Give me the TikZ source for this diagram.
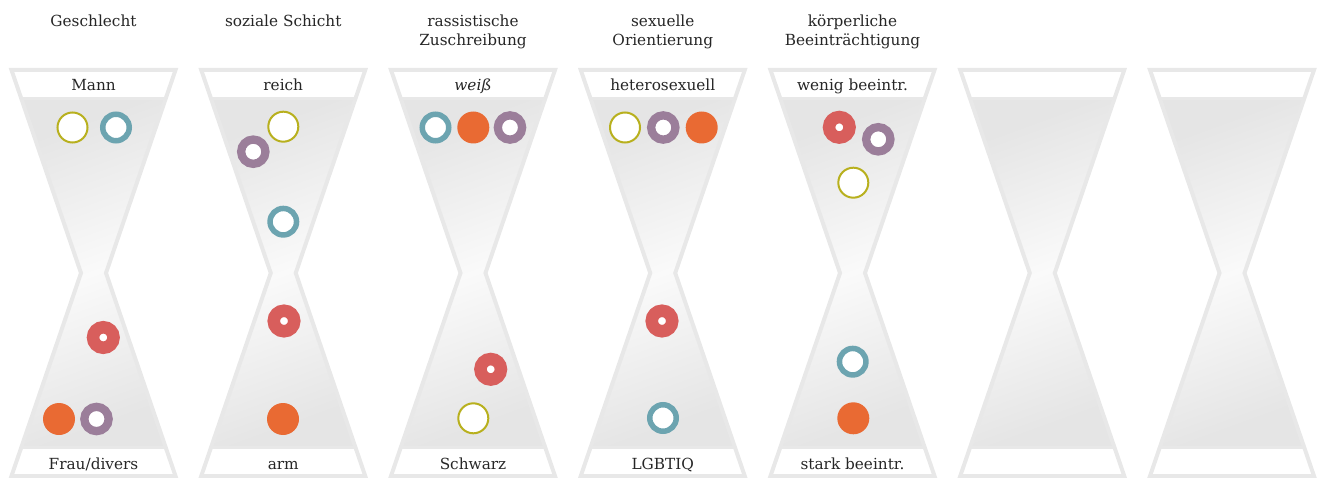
\documentclass[tikz,border=0pt]{standalone}
\usepackage{fontspec}
\setmainfont{DejaVu Serif}
\definecolor{cyel}{RGB}{184,176,30}
\definecolor{cteal}{RGB}{108,164,176}
\definecolor{cred}{RGB}{216,94,92}
\definecolor{corange}{RGB}{233,106,51}
\definecolor{cpurple}{RGB}{155,126,154}
\definecolor{framegray}{RGB}{232,232,232}
\definecolor{fillgray}{RGB}{229,229,229}
\definecolor{txt}{RGB}{38,38,38}
\tikzset{
  ringbase/.style={circle, inner sep=0pt, fill=white},
  yelring/.style={ringbase, draw=cyel, line width=2pt, minimum size=30pt},
  tealring/.style={ringbase, draw=cteal, line width=5.5pt, minimum size=26.5pt},
  redring/.style={ringbase, draw=cred, line width=12.5pt, minimum size=20.5pt},
  purpring/.style={ringbase, draw=cpurple, line width=8.3pt, minimum size=24.3pt},
  orangedisc/.style={circle, inner sep=0pt, fill=corange, minimum size=32pt},
  titletext/.style={align=center, font=\fontsize{15.3}{19.6}\selectfont, text=txt, anchor=base, inner sep=0pt},
  bandtext/.style={font=\fontsize{15.3}{19.6}\selectfont, text=txt, anchor=base, inner sep=0pt},
  framestroke/.style={draw=framegray, line width=4pt, line join=miter},
  bandstroke/.style={draw=framegray, line width=3pt},
  glassfill/.style={top color=fillgray, bottom color=fillgray, middle color=white!98!black, shading angle=20},
}
\begin{document}
\begin{tikzpicture}[x=1pt,y=-1pt]
\useasboundingbox (0,0) rectangle (1319,478);
% hourglasses
\foreach \c in {93.5,283.25,473,662.75,852.5,1042.25,1232}{
  \begin{scope}[shift={(\c,0)}]
    \fill[glassfill]
      (-71.6,99) -- (71.6,99) -- (12.5,273) -- (71.6,447) -- (-71.6,447) -- (-12.5,273) -- cycle;
    \draw[bandstroke] (-72,99) -- (72,99);
    \draw[bandstroke] (-72,447) -- (72,447);
    \draw[framestroke] (-82,70) -- (82,70) -- (12.5,273) -- (82,476) -- (-82,476) -- (-12.5,273) -- cycle;
  \end{scope}
}
% titles
\node[titletext] (t1) at (93.5,26.5) {Geschlecht};
\node[titletext] (t2) at (283.25,26.5) {soziale Schicht};
\node[titletext] (t3) at (473,46) {rassistische\\Zuschreibung};
\node[titletext] (t4) at (662.75,46) {sexuelle\\Orientierung};
\node[titletext] (t5) at (852.5,46) {körperliche\\Beeinträchtigung};
% band labels
\node[bandtext] (a1) at (93.5,90.7) {Mann};
\node[bandtext] (b1) at (93.5,469.3) {Frau/divers};
\node[bandtext] (a2) at (283.25,90.7) {reich};
\node[bandtext] (b2) at (283.25,469.3) {arm};
\node[bandtext] (a3) at (473,90.7) {\itshape weiß};
\node[bandtext] (b3) at (473,469.3) {Schwarz};
\node[bandtext] (a4) at (662.75,90.7) {heterosexuell};
\node[bandtext] (b4) at (662.75,469.3) {LGBTIQ};
\node[bandtext] (a5) at (852.5,90.7) {wenig beeintr.};
\node[bandtext] (b5) at (852.5,469.3) {stark beeintr.};
% column 1
\node[yelring] (y1) at (72.5,127.5) {};
\node[tealring] (c1) at (116,127.5) {};
\node[redring] (r1) at (103.3,337.5) {};
\node[orangedisc] (o1) at (59,419) {};
\node[purpring] (p1) at (96.5,419) {};
% column 2
\node[yelring] (y2) at (283.3,126.7) {};
\node[purpring] (p2) at (253.3,151.7) {};
\node[tealring] (c2) at (283.3,221.7) {};
\node[redring] (r2) at (284,321) {};
\node[orangedisc] (o2) at (283,419) {};
% column 3
\node[tealring] (c3) at (435.5,127.5) {};
\node[orangedisc] (o3) at (473.3,127.5) {};
\node[purpring] (p3) at (510,127.5) {};
\node[redring] (r3) at (490.7,369.3) {};
\node[yelring] (y3) at (473.3,418.3) {};
% column 4
\node[yelring] (y4) at (625,127.5) {};
\node[purpring] (p4) at (663.3,127.5) {};
\node[orangedisc] (o4) at (701.7,127.5) {};
\node[redring] (r4) at (662,321) {};
\node[tealring] (c4) at (663,418) {};
% column 5
\node[redring] (r5) at (839.3,127.3) {};
\node[purpring] (p5) at (878.3,139.3) {};
\node[yelring] (y5) at (853.3,182.7) {};
\node[tealring] (c5) at (852.7,361.7) {};
\node[orangedisc] (o5) at (853.3,418.3) {};
\end{tikzpicture}
\end{document}
